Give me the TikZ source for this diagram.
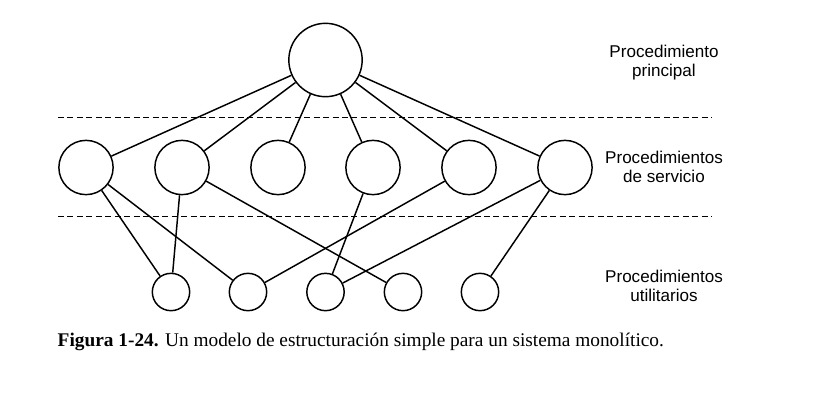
\documentclass[tikz,border=0pt]{standalone}
\usepackage{fontspec}
\setmainfont{Liberation Serif}
\setsansfont{Liberation Sans}
\def\upperline{(58,117.5) -- (712,117.5)}
\def\lowerline{(58,216.5) -- (712,216.5)}

\begin{document}
\begin{tikzpicture}[x=0.75pt, y=-0.75pt, line width=1.1pt,
    proc/.style={draw, circle, inner sep=0pt},
    level/.style={font=\sffamily\fontsize{12.8}{14.3}\selectfont, align=center}]
    \useasboundingbox (0,0) rectangle (822,415);
    \begin{scope}
        \node[proc, minimum size=55pt] (main) at (325.5,60) {};
        \node[proc, minimum size=40.7pt] (s1) at (86,167.5) {};
        \node[proc, minimum size=40.7pt] (s2) at (182,167.5) {};
        \node[proc, minimum size=40.7pt] (s3) at (278,167.5) {};
        \node[proc, minimum size=40.7pt] (s4) at (373,167.5) {};
        \node[proc, minimum size=40.7pt] (s5) at (469,167.5) {};
        \node[proc, minimum size=40.7pt] (s6) at (565,167.5) {};
        \node[proc, minimum size=28pt] (u1) at (171,292) {};
        \node[proc, minimum size=28pt] (u2) at (248,292) {};
        \node[proc, minimum size=28pt] (u3) at (325.5,292) {};
        \node[proc, minimum size=28pt] (u4) at (403,292) {};
        \node[proc, minimum size=28pt] (u5) at (480,292) {};
    \end{scope}
    \draw (main) -- (s1);
    \draw (main) -- (s2);
    \draw (main) -- (s3);
    \draw (main) -- (s4);
    \draw (main) -- (s5);
    \draw (main) -- (s6);
    \draw (s1) -- (u1);
    \draw (s1) -- (u2);
    \draw (s2) -- (u1);
    \draw (s2) -- (u4);
    \draw (s4) -- (u3);
    \draw (s5) -- (u2);
    \draw (s6) -- (u3);
    \draw (s6) -- (u5);
    \draw[line width=0.8pt, dash pattern=on 4.5pt off 2.6pt] \upperline;
    \draw[line width=0.8pt, dash pattern=on 4.5pt off 2.6pt] \lowerline;
    \node[level] (lmain) at (664,62.5) {Procedimiento\\principal};
    \node[level] (lserv) at (664,166.5) {Procedimientos\\de servicio};
    \node[level] (lutil) at (664,286) {Procedimientos\\utilitarios};
    \node[anchor=base west, inner sep=0pt, font=\fontsize{14.5}{17}\selectfont] (caption) at (57,346.7)
        {\textbf{Figura 1-24.} Un modelo de estructuración simple para un sistema monolítico.};
\end{tikzpicture}
\end{document}
